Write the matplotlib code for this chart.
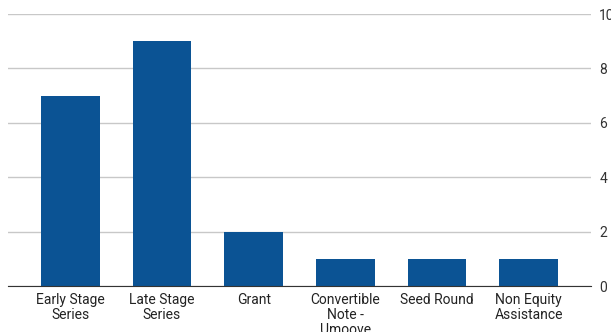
import matplotlib.pyplot as plt

categories = ["Early Stage\nSeries", "Late Stage\nSeries", "Grant",
              "Convertible\nNote -\nUmoove", "Seed Round", "Non Equity\nAssistance"]
values = [7, 9, 2, 1, 1, 1]
yticks = [0, 2, 4, 6, 8, 10]

plt.rcParams['font.family'] = ['Roboto', 'DejaVu Sans']

fig = plt.figure(figsize=(6.11, 3.32), dpi=100)
ax = fig.add_axes([8 / 611, 46 / 332, 583 / 611, 272 / 332])

x = list(range(len(categories)))
ax.bar(x, values, width=0.64, color="#0b5394", zorder=3)

ax.set_xlim(-0.68, len(categories) - 0.32)
ax.set_ylim(0, 10)
ax.set_yticks(yticks)
ax.yaxis.tick_right()
ax.tick_params(axis='y', length=0, pad=6, labelsize=10, labelcolor="#333333")
ax.tick_params(axis='x', length=0, pad=5, labelsize=10, labelcolor="#222222")
ax.set_xticks(x)
ax.set_xticklabels(categories, linespacing=1.1, va='top')
ax.grid(axis='y', color="#c8c8c8", linewidth=1, zorder=0)
for s in ["top", "left", "right"]:
    ax.spines[s].set_visible(False)
ax.spines["bottom"].set_color("#333333")
ax.spines["bottom"].set_zorder(4)

fig.savefig("out.png", dpi=100)
